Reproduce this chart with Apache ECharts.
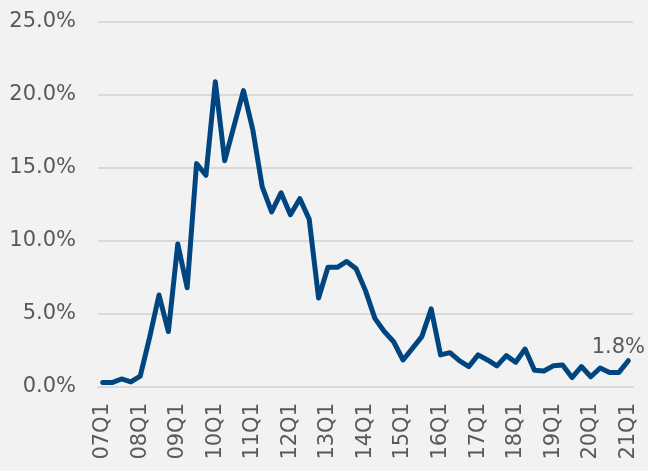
<!DOCTYPE html>
<html>
	<head>
		<meta charset="utf-8">
		<script src="https://cdn.jsdelivr.net/npm/echarts@6/dist/echarts.min.js" type="text/javascript" charset="utf-8"></script>
		<title>chart</title>
		<style>
			html,body{margin:0;padding:0;background:#f2f2f2;}
			#main{width:648px;height:471px;}
		</style>
	</head>
	<body>
		<div id="main"></div>
		<script type="text/javascript">
			// 季度 07Q1 ~ 21Q1
			var years = ['07','08','09','10','11','12','13','14','15','16','17','18','19','20','21'];
			var quarters = [];
			for (var i = 0; i < years.length; i++) {
				for (var q = 1; q <= 4; q++) {
					if (years[i] == '21' && q > 1) break;
					quarters.push(years[i] + 'Q' + q);
				}
			}
			// 数值 (%)
			var rates = [
				0.3, 0.3, 0.55, 0.35,
				0.75, 3.4, 6.3, 3.8,
				9.8, 6.8, 15.3, 14.5,
				20.9, 15.5, 17.9, 20.3,
				17.6, 13.7, 12.0, 13.3,
				11.8, 12.9, 11.5, 6.1,
				8.2, 8.2, 8.6, 8.1,
				6.6, 4.7, 3.8, 3.1,
				1.85, 2.65, 3.45, 5.35,
				2.2, 2.35, 1.8, 1.4,
				2.2, 1.85, 1.45, 2.15,
				1.7, 2.6, 1.15, 1.1,
				1.45, 1.5, 0.65, 1.4,
				0.7, 1.3, 1.0, 1.0,
				1.8
			];
			var yTicks = [0, 5, 10, 15, 20, 25];

			var txtColor = '#595959', fontName = 'DejaVu Sans';
			var seriesData = rates.map(function(v, idx){
				if (idx == rates.length - 1) {
					return {
						value: v,
						label: {
							show: true,
							position: 'top',
							distance: 3,
							offset: [-10, 0],
							formatter: function(p){ return p.value.toFixed(1) + '%'; },
							color: txtColor,
							fontSize: 21,
							fontFamily: fontName
						}
					};
				}
				return v;
			});

			var myChart = echarts.init(document.getElementById('main'));
			var option = {
				backgroundColor: '#f2f2f2',
				animation: false,
				grid: {
					left: 98,
					right: 15,
					top: 22,
					bottom: 84
				},
				xAxis: {
					type: 'category',
					boundaryGap: true,
					data: quarters,
					axisLine: {show: true, lineStyle: {color: '#d9d9d9', width: 2}},
					axisTick: {show: false},
					axisLabel: {
						interval: 3,
						rotate: 90,
						margin: 16,
						color: txtColor,
						fontSize: 21,
						fontFamily: fontName
					}
				},
				yAxis: {
					type: 'value',
					min: yTicks[0],
					max: yTicks[yTicks.length - 1],
					interval: 5,
					axisLine: {show: false},
					axisTick: {show: false},
					splitLine: {lineStyle: {color: '#d9d9d9', width: 2}},
					axisLabel: {
						margin: 22,
						color: txtColor,
						fontSize: 21,
						fontFamily: fontName,
						formatter: function(v){ return v.toFixed(1) + '%'; }
					}
				},
				series: [{
					type: 'line',
					data: seriesData,
					symbol: 'circle',
					symbolSize: 0,
					showSymbol: true,
					showAllSymbol: true,
					smooth: false,
					itemStyle: {color: '#00457f'},
					lineStyle: {color: '#00457f', width: 5, join: 'round', cap: 'round'}
				}]
			};
			myChart.setOption(option);
		</script>
	</body>
</html>
